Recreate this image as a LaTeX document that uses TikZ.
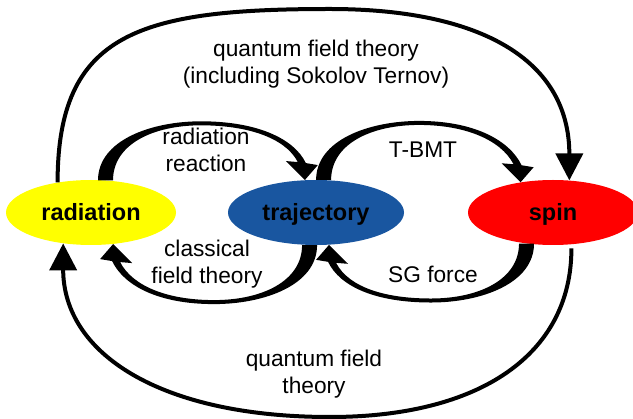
\documentclass[tikz,border=0pt]{standalone}
\usepackage{fontspec}
\setmainfont{Liberation Sans}
\usetikzlibrary{shapes.geometric,arrows.meta,calc}

\definecolor{giallo}{RGB}{255,255,0}
\definecolor{blu}{RGB}{25,86,160}
\definecolor{rosso}{RGB}{255,0,0}

\begin{document}
\begin{tikzpicture}[
    x=1pt, y=1pt,
    font=\fontsize{22.7}{26.5}\selectfont,
    stato/.style={ellipse, minimum width=170pt, minimum height=65pt,
      inner sep=0pt, text height=16.5pt, text depth=0pt,
      font=\fontsize{23.5}{27}\selectfont\bfseries},
    arco/.style={line width=4pt, -{Triangle[length=27pt,width=27pt]}},
    etich/.style={align=center, inner sep=0pt},
  ]

  % freccia curva che si assottiglia: partenza, punta, verso (1 sopra, -1 sotto)
  \def\frecciona#1#2#3{%
    \fill ($(#1)+({-8*(#3)},0)$)
      .. controls +(0,{40*(#3)}) and +({-50*(#3)},0) .. ($(#1)+({95*(#3)},{59*(#3)})$)
      .. controls +({55*(#3)},0) and +({-12*(#3)},{25*(#3)}) .. ($(#2)+({1*(#3)},{17*(#3)})$)
      -- ($(#2)+({13*(#3)},{15*(#3)})$) -- (#2) -- ($(#2)+({-19*(#3)},{19*(#3)})$)
      -- ($(#2)+({-7*(#3)},{18*(#3)})$)
      .. controls +({-13*(#3)},{25*(#3)}) and +({45*(#3)},0) .. ($(#1)+({95*(#3)},{55*(#3)})$)
      .. controls +({-48*(#3)},0) and +(0,{36*(#3)}) .. ($(#1)+({7*(#3)},0)$)
      -- cycle;}

  \useasboundingbox (0,0) rectangle (633,-419);

  % ---- i tre stati ----------------------------------------------------------
  \node[stato, fill=giallo] (rad) at (91,-212.5) {radiation};
  \node[stato, fill=blu, minimum width=176pt] (traj) at (316,-212.5) {trajectory};
  \node[stato, fill=rosso] (spin) at (553,-212.5) {spin};

  % ---- frecce interne ---------------------------------------------------------
  \frecciona{rad.65}{traj.109}{1}
  \frecciona{traj.76}{spin.137}{1}
  \frecciona{traj.258}{rad.305}{-1}
  \frecciona{spin.229}{traj.292}{-1}

  % ---- archi esterni ----------------------------------------------------------
  \coordinate (alto) at (330,-9);
  \coordinate (basso) at (330,-417);
  \draw[arco] (rad.138) .. controls +(0,150) and +(-190,0) .. (alto)
    .. controls +(150,0) and +(0,121) .. (spin.63);
  \draw[arco, shorten <=4pt] (spin.300) .. controls +(0,-110) and +(150,0) .. (basso)
    .. controls +(-170,0) and +(0,-110) .. (rad.228);

  % ---- etichette --------------------------------------------------------------
  \node[etich] (qftsu) at (316,-64) {quantum field theory\\(including Sokolov Ternov)};
  \node[etich] (rr) at (206,-150) {radiation\\reaction};
  \node[etich] (tbmt) at (423,-150) {T-BMT};
  \node[etich] (cft) at (207,-264) {classical\\field theory};
  \node[etich] (sg) at (433,-274) {SG force};
  \node[etich] (qftgiu) at (314,-374) {quantum field\\theory};

\end{tikzpicture}
\end{document}
